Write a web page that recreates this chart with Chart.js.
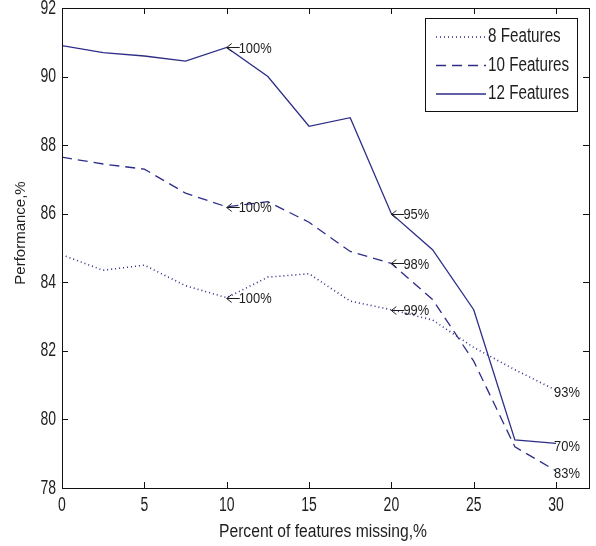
<!DOCTYPE html>
<html>
<head>
<meta charset="utf-8">
<script src="https://cdn.jsdelivr.net/npm/chart.js@4.4.1/dist/chart.umd.min.js"></script>
<style>
  html, body { margin: 0; padding: 0; background: #fff; }
  #wrap { width: 596px; height: 546px; }
</style>
</head>
<body>
<div id="wrap"><canvas id="chart" width="596" height="546"></canvas></div>
<script>
// values
const missing = [0, 2.5, 5, 7.5, 10, 12.5, 15, 17.5, 20, 22.5, 25, 27.5, 30];
const perf8 = [84.8, 84.35, 84.5, 83.9, 83.55, 84.15, 84.25, 83.45, 83.2, 82.9, 82.1, 81.45, 80.85];
const perf10 = [87.65, 87.45, 87.3, 86.6, 86.2, 86.35, 85.75, 84.9, 84.55, 83.5, 81.7, 79.2, 78.5];
const perf12 = [90.9, 90.7, 90.6, 90.45, 90.85, 90.0, 88.55, 88.8, 86.0, 84.95, 83.2, 79.4, 79.3];
const seriesNames = ['8 Features', '10 Features', '12 Features'];
const yTicks = [78, 80, 82, 84, 86, 88, 90, 92];
const xTicks = [0, 5, 10, 15, 20, 25, 30];
const xTitle = 'Percent of features missing,%';
const yTitle = 'Performance,%';

// point labels: which series, at which x, what text
const noteSeries = [2, 1, 0, 2, 1, 0, 0, 2, 1];
const noteX = [10, 10, 10, 20, 20, 20, 30, 30, 30];
const noteText = ['←100%', '←100%', '←100%', '←95%', '←98%', '←99%', '93%', '70%', '83%'];

const FONT = '"Liberation Sans", Arial, sans-serif';
const INK = '#1e1e1e';
const LINE = '#2d2d88';

const allSeries = [perf8, perf10, perf12];
const dashes = [[1, 3], [10, 6], []];

// narrow text like the old matlab export: scale glyphs horizontally
function squeezed(ctx, text, x, y, size, sx, align) {
  ctx.save();
  ctx.font = size + 'px ' + FONT;
  ctx.textBaseline = 'middle';
  ctx.textAlign = align;
  ctx.translate(x, y);
  ctx.scale(sx, 1);
  ctx.fillText(text, 0, 0);
  ctx.restore();
}

const frame = {
  id: 'frame',
  afterDatasetsDraw(chart) {
    const ctx = chart.ctx;
    const a = chart.chartArea;
    const xs = chart.scales.x, ys = chart.scales.y;
    ctx.save();
    // box and inward ticks
    ctx.strokeStyle = '#111';
    ctx.lineWidth = 1;
    ctx.setLineDash([]);
    ctx.strokeRect(a.left + 0.5, a.top + 0.5, a.right - a.left, a.bottom - a.top);
    const tl = 6;
    ctx.beginPath();
    xs.ticks.forEach(t => {
      const px = Math.round(xs.getPixelForValue(t.value)) + 0.5;
      ctx.moveTo(px, a.bottom); ctx.lineTo(px, a.bottom - tl);
      ctx.moveTo(px, a.top); ctx.lineTo(px, a.top + tl);
    });
    ys.ticks.forEach(t => {
      const py = Math.round(ys.getPixelForValue(t.value)) + 0.5;
      ctx.moveTo(a.left, py); ctx.lineTo(a.left + tl, py);
      ctx.moveTo(a.right, py); ctx.lineTo(a.right - tl, py);
    });
    ctx.stroke();

    // tick labels
    ctx.fillStyle = INK;
    xs.ticks.forEach(t => {
      squeezed(ctx, String(t.value), xs.getPixelForValue(t.value), a.bottom + 17, 20, 0.7, 'center');
    });
    ys.ticks.forEach(t => {
      squeezed(ctx, String(t.value), a.left - 6, ys.getPixelForValue(t.value), 20, 0.7, 'right');
    });

    // axis titles
    squeezed(ctx, xTitle, 323, 532, 18, 0.87, 'center');
    ctx.save();
    ctx.translate(21, 233);
    ctx.rotate(-Math.PI / 2);
    squeezed(ctx, yTitle, 0, 0, 15, 1, 'center');
    ctx.restore();

    // point labels (tex-style left arrow drawn as a path)
    noteText.forEach((t, i) => {
      const idx = missing.indexOf(noteX[i]);
      const px = xs.getPixelForValue(noteX[i]);
      const py = ys.getPixelForValue(allSeries[noteSeries[i]][idx]);
      if (t.startsWith('←')) {
        const ay = Math.round(py) + 0.5;
        ctx.save();
        ctx.strokeStyle = INK;
        ctx.lineWidth = 1;
        ctx.beginPath();
        ctx.moveTo(px + 13, ay); ctx.lineTo(px, ay);
        ctx.moveTo(px + 5, ay - 4); ctx.lineTo(px, ay); ctx.lineTo(px + 5, ay + 4);
        ctx.stroke();
        ctx.restore();
        squeezed(ctx, t.slice(1), px + 12, py + 1, 15, 0.86, 'left');
      } else {
        squeezed(ctx, t, px - 2, py + 3, 15, 0.86, 'left');
      }
    });

    // legend box
    const lx = a.right - 164, ly = a.top + 10, lw = 152, lh = 93;
    ctx.fillStyle = '#fff';
    ctx.fillRect(lx, ly, lw, lh);
    ctx.strokeStyle = '#111';
    ctx.lineWidth = 1;
    ctx.strokeRect(lx + 0.5, ly + 0.5, lw, lh);
    chart.data.datasets.forEach((ds, i) => {
      const yy = ly + 19 + i * 28.5;
      ctx.strokeStyle = ds.borderColor;
      ctx.lineWidth = ds.borderWidth;
      ctx.setLineDash(ds.borderDash);
      ctx.beginPath();
      ctx.moveTo(lx + 11, yy); ctx.lineTo(lx + 61, yy);
      ctx.stroke();
      ctx.setLineDash([]);
      ctx.fillStyle = INK;
      squeezed(ctx, ds.label, lx + 63, yy, 19.5, 0.78, 'left');
    });
    ctx.restore();
  }
};

new Chart(document.getElementById('chart'), {
  type: 'line',
  data: {
    datasets: allSeries.map((s, i) => ({
      label: seriesNames[i],
      data: s.map((y, j) => ({ x: missing[j], y: y })),
      borderColor: LINE,
      borderWidth: i === 0 ? 1.6 : 1.3,
      borderDash: dashes[i],
      pointRadius: 0,
      tension: 0,
      fill: false
    }))
  },
  options: {
    responsive: false,
    animation: false,
    layout: { padding: { top: 8, right: 7, left: 0, bottom: 0 } },
    plugins: { legend: { display: false }, tooltip: { enabled: false } },
    scales: {
      x: {
        type: 'linear',
        min: 0, max: 32,
        afterFit: (s) => { s.height = 58; },
        afterBuildTicks: (s) => { s.ticks = xTicks.map(v => ({ value: v })); },
        grid: { display: false },
        border: { display: false },
        ticks: { display: false }
      },
      y: {
        min: 78, max: 92,
        afterFit: (s) => { s.width = 62; },
        afterBuildTicks: (s) => { s.ticks = yTicks.map(v => ({ value: v })); },
        grid: { display: false },
        border: { display: false },
        ticks: { display: false }
      }
    }
  },
  plugins: [frame]
});
</script>
</body>
</html>
